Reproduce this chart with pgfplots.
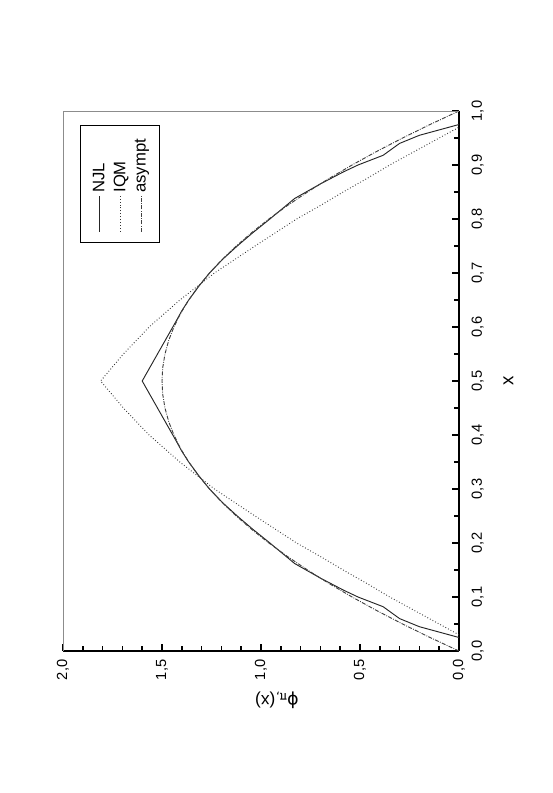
\documentclass[border=0pt]{standalone}
\usepackage{fontspec}
\setmainfont{Liberation Sans}
\newfontfamily\grk{DejaVu Sans}
\usepackage{graphicx}
\usepackage{pgfplots}
\pgfplotsset{compat=1.18}

\pgfplotstableread{
x phi
0.025 0
0.035 0.10
0.045 0.20
0.060 0.30
0.082 0.383
0.100 0.51
0.113 0.585
0.135 0.70
0.162 0.83
0.200 0.955
0.225 1.04
0.250 1.12
0.275 1.195
0.300 1.26
0.325 1.315
0.350 1.365
0.370 1.40
0.390 1.43
0.500 1.60
0.610 1.43
0.630 1.40
0.650 1.365
0.675 1.315
0.700 1.26
0.725 1.195
0.750 1.12
0.775 1.04
0.800 0.955
0.838 0.83
0.865 0.70
0.887 0.585
0.900 0.51
0.918 0.383
0.940 0.30
0.955 0.20
0.965 0.10
0.975 0
}\njl

\pgfplotstableread{
x phi
0.030 0
0.050 0.10
0.075 0.225
0.100 0.35
0.125 0.465
0.150 0.585
0.175 0.70
0.200 0.82
0.250 1.03
0.300 1.235
0.350 1.41
0.400 1.565
0.450 1.695
0.500 1.81
0.550 1.695
0.600 1.565
0.650 1.41
0.700 1.235
0.750 1.03
0.800 0.82
0.825 0.70
0.850 0.585
0.875 0.465
0.900 0.35
0.925 0.225
0.950 0.10
0.970 0
}\iqm

\pgfplotstableread{
x phi
0.000 0
0.025 0.14625
0.050 0.285
0.075 0.41625
0.100 0.54
0.125 0.65625
0.150 0.765
0.175 0.86625
0.200 0.96
0.225 1.04625
0.250 1.125
0.275 1.19625
0.300 1.26
0.325 1.31625
0.350 1.365
0.375 1.40625
0.400 1.44
0.425 1.46625
0.450 1.485
0.475 1.49625
0.500 1.5
0.525 1.49625
0.550 1.485
0.575 1.46625
0.600 1.44
0.625 1.40625
0.650 1.365
0.675 1.31625
0.700 1.26
0.725 1.19625
0.750 1.125
0.775 1.04625
0.800 0.96
0.825 0.86625
0.850 0.765
0.875 0.65625
0.900 0.54
0.925 0.41625
0.950 0.285
0.975 0.14625
1.000 0
}\asympt

\begin{document}
\rotatebox{90}{%
\begin{tikzpicture}
\begin{axis}[
  at={(0,0)}, anchor=south west,
  width=405pt, height=297pt, scale only axis,
  xmin=0, xmax=1, ymin=0, ymax=2,
  axis lines*=left,
  axis line style={-, line width=1.2pt, black},
  tick align=inside,
  major tick length=5pt, minor tick length=3.5pt,
  every tick/.style={black, line width=1.1pt},
  xtick={0,0.1,0.2,0.3,0.4,0.5,0.6,0.7,0.8,0.9,1},
  ytick={0,0.5,1,1.5,2},
  minor x tick num=1, minor y tick num=4,
  /pgf/number format/assume math mode=true,
  /pgf/number format/fixed,
  /pgf/number format/fixed zerofill,
  /pgf/number format/precision=1,
  /pgf/number format/use comma,
  tick label style={font=\fontsize{11}{13}\selectfont},
  xticklabel shift=6pt,
  yticklabel shift=3pt,
  xlabel={x},
  xlabel style={font=\fontsize{14}{16}\selectfont, at={(axis description cs:0.5,-0.125)}, anchor=center},
  ylabel={{\grk ϕ}\textsubscript{\grk π,}(x)},
  ylabel style={font=\fontsize{13}{15}\selectfont, at={(axis description cs:-0.091,0.46)}, anchor=center, rotate=0},
  legend cell align=left,
  legend image code/.code={\draw[#1] (0pt,0pt) -- (27pt,0pt);},
  legend style={at={(axis description cs:0.974,0.956)}, anchor=north east,
    draw=black, line width=0.8pt, font=\fontsize{12.5}{14}\selectfont,
    inner xsep=8pt, inner ysep=7pt, row sep=1.5pt},
]
\addplot[black!85, line width=0.7pt] table[x=x, y=phi] {\njl};
\addplot[black!80, line width=0.7pt, dash pattern=on 0.6pt off 1.6pt] table[x=x, y=phi] {\iqm};
\addplot[black!75, line width=0.7pt, dash pattern=on 3pt off 1pt on 0.6pt off 1pt] table[x=x, y=phi] {\asympt};
\legend{NJL, IQM, asympt}
\draw[black!45, line width=0.6pt] (rel axis cs:0,1) -- (rel axis cs:1,1) -- (rel axis cs:1,0);
\end{axis}
\pgfresetboundingbox
\path[use as bounding box] (-106.5pt,-70.5pt) rectangle (488.25pt,344.25pt);
\end{tikzpicture}%
}
\end{document}
